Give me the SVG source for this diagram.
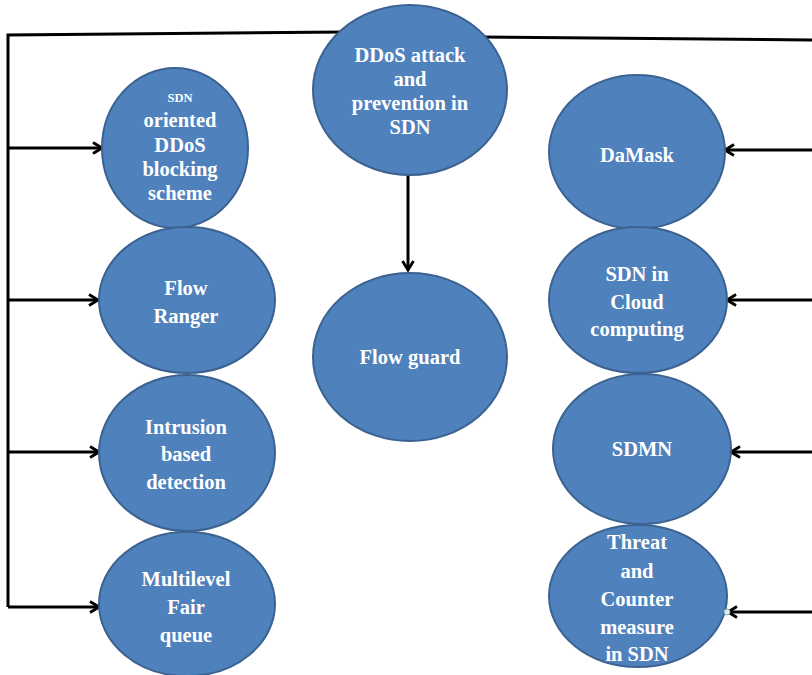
<svg xmlns="http://www.w3.org/2000/svg" width="812" height="675" viewBox="0 0 812 675">
  <style>
    .node ellipse { fill: #4f81bd; stroke: #3b6290; stroke-width: 2; }
    .node text { font-family: "Liberation Serif", "Times New Roman", serif; font-weight: bold; font-size: 20.5px; fill: #ffffff; text-anchor: middle; }
    .big { font-size: 21.5px; }
    .wire { fill: none; stroke: #000000; stroke-width: 3; }
  </style>
  <defs>
    <marker id="vhead" viewBox="0 0 14 14" refX="12" refY="7" markerWidth="14" markerHeight="14" markerUnits="userSpaceOnUse" orient="auto">
      <polyline points="3,1.5 12,7 3,12.5" fill="none" stroke="#000000" stroke-width="2.8" stroke-linejoin="miter"/>
    </marker>
  </defs>
  <rect width="812" height="675" fill="#ffffff"/>

  <!-- connectors, drawn beneath the nodes -->
  <g id="connectors">
    <polyline class="wire" points="345,32 8,35 8,607"/>
    <line class="wire" x1="480" y1="37" x2="812" y2="40"/>
    <line class="wire" x1="408" y1="175" x2="408" y2="270" marker-end="url(#vhead)"/>
    <line class="wire" x1="8" y1="148" x2="102" y2="148" marker-end="url(#vhead)"/>
    <line class="wire" x1="8" y1="300" x2="98" y2="300" marker-end="url(#vhead)"/>
    <line class="wire" x1="8" y1="452" x2="99" y2="452" marker-end="url(#vhead)"/>
    <line class="wire" x1="8" y1="607" x2="99" y2="607" marker-end="url(#vhead)"/>
    <line class="wire" x1="812" y1="150" x2="725" y2="150" marker-end="url(#vhead)"/>
    <line class="wire" x1="812" y1="300" x2="727" y2="300" marker-end="url(#vhead)"/>
    <line class="wire" x1="812" y1="452" x2="731" y2="452" marker-end="url(#vhead)"/>
    <line class="wire" x1="812" y1="612" x2="728" y2="612" marker-end="url(#vhead)"/>
  </g>

  <g id="root" class="node">
    <ellipse cx="410" cy="90" rx="97" ry="85"/>
    <text x="410" y="62">DDoS attack</text>
    <text x="410" y="86">and</text>
    <text x="410" y="110">prevention in</text>
    <text x="410" y="134">SDN</text>
  </g>

  <g id="flow-guard" class="node">
    <ellipse cx="410" cy="357" rx="97" ry="84"/>
    <text x="410" y="364">Flow guard</text>
  </g>

  <g id="sdn-oriented" class="node">
    <ellipse cx="175" cy="148" rx="73" ry="80"/>
    <text x="180" y="102" style="font-size:12.5px">SDN</text>
    <text x="180" y="127">oriented</text>
    <text x="180" y="152">DDoS</text>
    <text x="180" y="176">blocking</text>
    <text x="180" y="200">scheme</text>
  </g>

  <g id="flow-ranger" class="node">
    <ellipse cx="187" cy="300" rx="88" ry="73"/>
    <text class="big" x="186" y="295">Flow</text>
    <text class="big" x="186" y="323">Ranger</text>
  </g>

  <g id="intrusion" class="node">
    <ellipse cx="187" cy="453" rx="88" ry="78"/>
    <text class="big" x="186" y="434">Intrusion</text>
    <text class="big" x="186" y="461">based</text>
    <text class="big" x="186" y="489">detection</text>
  </g>

  <g id="multilevel" class="node">
    <ellipse cx="187" cy="604" rx="88" ry="72"/>
    <text class="big" x="186" y="586">Multilevel</text>
    <text class="big" x="186" y="614">Fair</text>
    <text class="big" x="186" y="642">queue</text>
  </g>

  <g id="damask" class="node">
    <ellipse cx="637" cy="152" rx="88" ry="77"/>
    <text x="637" y="162">DaMask</text>
  </g>

  <g id="sdn-cloud" class="node">
    <ellipse cx="638" cy="300" rx="89" ry="73"/>
    <text x="637" y="281">SDN  in</text>
    <text x="637" y="309">Cloud</text>
    <text x="637" y="336">computing</text>
  </g>

  <g id="sdmn" class="node">
    <ellipse cx="642" cy="449" rx="89" ry="75"/>
    <text x="642" y="456">SDMN</text>
  </g>

  <g id="threat" class="node">
    <ellipse cx="638" cy="596" rx="89" ry="71"/>
    <text x="637" y="549">Threat</text>
    <text x="637" y="578">and</text>
    <text x="637" y="606">Counter</text>
    <text x="637" y="634">measure</text>
    <text x="637" y="661">in SDN</text>
    <circle cx="727" cy="612" r="3" fill="#dfe9f0" stroke="#8aa8b8" stroke-width="1"/>
  </g>
</svg>
